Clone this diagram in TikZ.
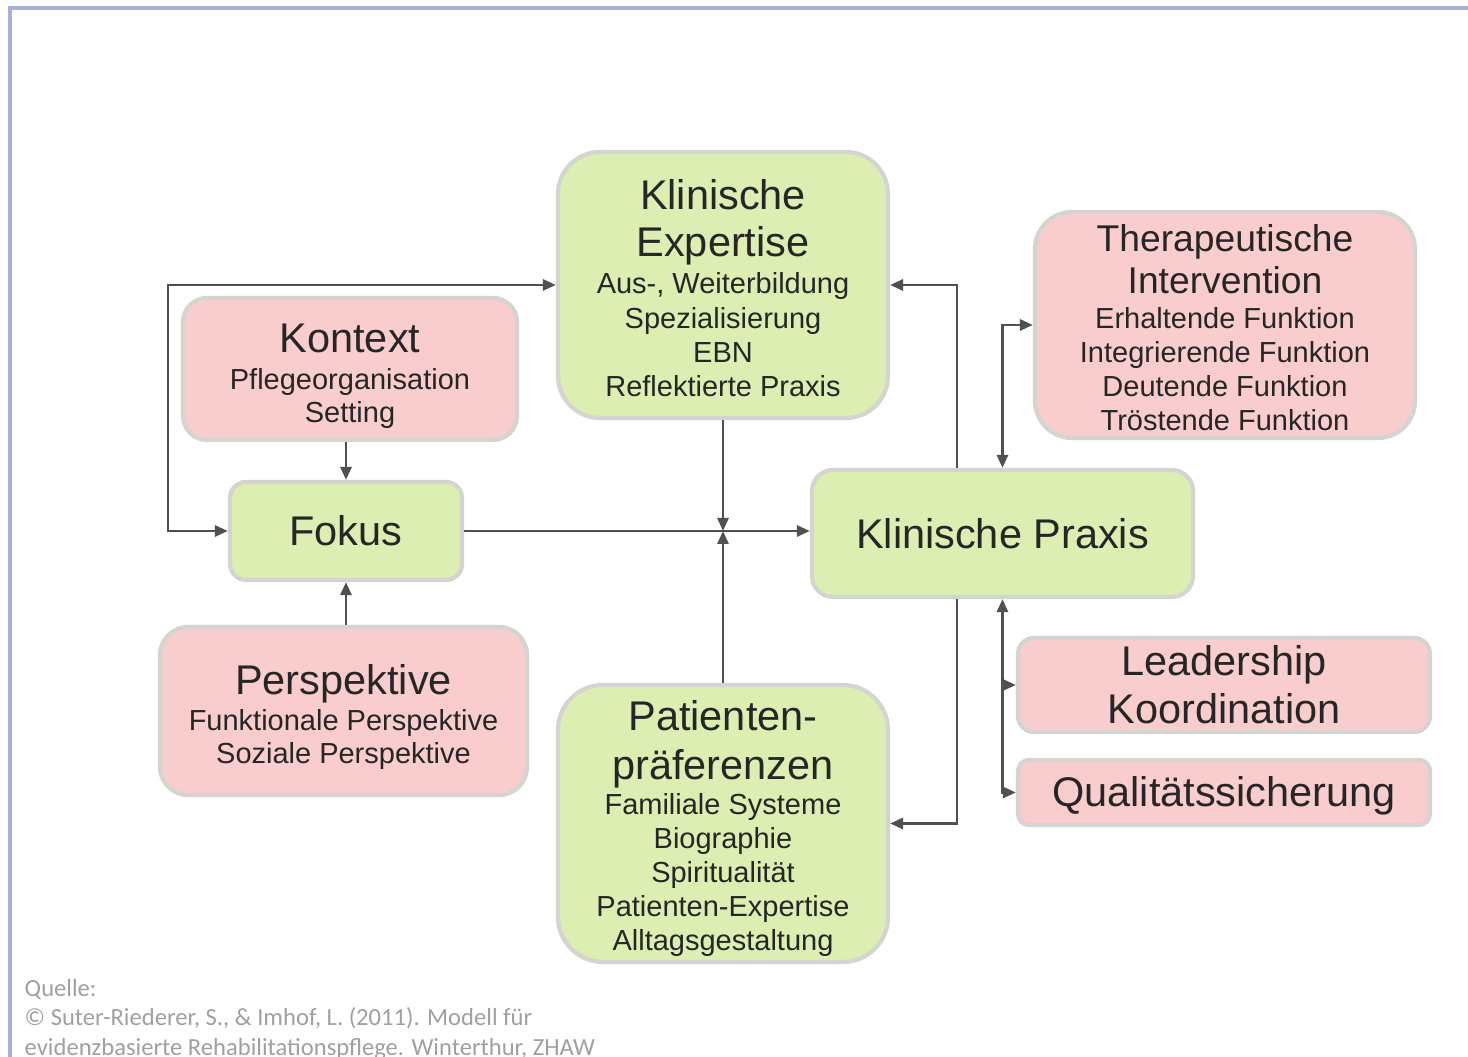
\documentclass[tikz,border=0pt]{standalone}
\usepackage{fontspec}
\setmainfont{Liberation Sans}
\newfontfamily\quellefont{Carlito}
\usetikzlibrary{arrows.meta}
\definecolor{boxgreen}{RGB}{220,238,177}
\definecolor{boxpink}{RGB}{249,205,205}
\definecolor{boxedge}{RGB}{212,212,208}
\definecolor{linegray}{RGB}{80,80,80}
\definecolor{framecol}{RGB}{165,178,214}
\definecolor{quellecol}{RGB}{160,160,160}
\newcommand{\bigt}{\fontsize{11.8}{14}\selectfont}
\newcommand{\midt}{\fontsize{10.6}{14}\selectfont}
\tikzset{
  gbox/.style={rectangle, fill=boxgreen, draw=boxedge, line width=1.2pt, text=black!85, align=center, inner sep=0pt, font=\fontsize{8.25}{14}\selectfont},
  pbox/.style={gbox, fill=boxpink},
  conn/.style={draw=linegray, line width=0.8pt, -{Triangle[length=1.3mm,width=1.1mm]}},
  conntwo/.style={conn, {Triangle[length=1.3mm,width=1.1mm]}-{Triangle[length=1.3mm,width=1.1mm]}},
  plainline/.style={draw=linegray, line width=0.8pt}
}
\begin{document}
\begin{tikzpicture}
\useasboundingbox (0,0) rectangle (14.68,10.57);
\fill[white] (0,0) rectangle (14.68,10.57);
\draw[framecol, line width=0.9pt] (0.10,0) -- (0.10,10.49) -- (14.68,10.49);
\node[gbox, minimum width=3.3cm, minimum height=2.66cm, rounded corners=0.42cm] (NExpertise) at (7.23,7.72) {\bigt\rule{0pt}{10.3pt}Klinische\\[-0.6pt]\bigt Expertise\\[-3.4pt]Aus-, Weiterbildung\\[-4.3pt]Spezialisierung\\[-4.3pt]EBN\\[-4.3pt]Reflektierte Praxis};
\node[pbox, minimum width=3.34cm, minimum height=1.42cm, rounded corners=0.24cm] (NKontext) at (3.50,6.88) {\bigt\rule{0pt}{12.2pt}Kontext\\[-3.4pt]Pflegeorganisation\\[-4.5pt]Setting};
\node[gbox, minimum width=2.32cm, minimum height=0.98cm, rounded corners=0.16cm] (NFokus) at (3.46,5.26) {\bigt Fokus};
\node[pbox, minimum width=3.67cm, minimum height=1.68cm, rounded corners=0.28cm] (NPerspektive) at (3.435,3.46) {\bigt\rule{0pt}{12pt}Perspektive\\[-3.7pt]Funktionale Perspektive\\[-4.5pt]Soziale Perspektive};
\node[gbox, minimum width=3.3cm, minimum height=2.77cm, rounded corners=0.45cm] (NPatienten) at (7.23,2.335) {\bigt\rule{0pt}{11.4pt}Patienten-\\[-0.1pt]\bigt präferenzen\\[-4.0pt]Familiale Systeme\\[-4.3pt]Biographie\\[-4.3pt]Spiritualität\\[-4.3pt]Patienten-Expertise\\[-4.3pt]Alltagsgestaltung};
\node[gbox, minimum width=3.81cm, minimum height=1.27cm, rounded corners=0.21cm] (NPraxis) at (10.025,5.235) {\bigt Klinische Praxis};
\node[pbox, minimum width=3.8cm, minimum height=2.26cm, rounded corners=0.37cm] (NTherapie) at (12.25,7.32) {\midt\rule{0pt}{9.1pt}Therapeutische\\[-2.0pt]\midt Intervention\\[-4.05pt]Erhaltende Funktion\\[-4.4pt]Integrierende Funktion\\[-4.4pt]Deutende Funktion\\[-4.4pt]Tröstende Funktion};
\node[pbox, minimum width=4.12cm, minimum height=0.94cm, rounded corners=0.16cm] (NLeadership) at (12.24,3.72) {\bigt Leadership\\[-0.3pt]\bigt Koordination};
\node[pbox, minimum width=4.12cm, minimum height=0.65cm, rounded corners=0.11cm] (NQualitaet) at (12.24,2.645) {\bigt\rule{0pt}{10.3pt}Qualitätssicherung};
\node[anchor=north west, align=left, inner sep=0pt, text=quellecol, font=\quellefont\fontsize{7}{8.3}\selectfont] (NQuelle) at (0.24,0.78) {Quelle:\\© Suter-Riederer, S., \& Imhof, L. (2011). Modell für\\evidenzbasierte Rehabilitationspflege. Winterthur, ZHAW};
\coordinate (CLoop) at (1.68,5.26);
\coordinate (CMid) at (NExpertise.south |- NFokus.east);
\draw[conntwo] (NExpertise.west) -| (CLoop) -- (NFokus.west);
\draw[conn] (NFokus.north |- NKontext.south) -- (NFokus.north);
\draw[conn] (NFokus.south |- NPerspektive.north) -- (NFokus.south);
\draw[conn] (NFokus.east) -- (NFokus.east -| NPraxis.west);
\draw[conn] (NExpertise.south) -- (CMid);
\draw[conn] (NPatienten.north) -- (CMid);
\draw[conn] ([xshift=-4.55mm]NPraxis.north) |- (NExpertise.east);
\draw[conn] ([xshift=-4.55mm]NPraxis.south) |- (NPatienten.east);
\draw[conntwo] (NPraxis.north) |- (NTherapie.west);
\draw[conntwo] (NPraxis.south) |- (NQualitaet.west);
\draw[conn] (NPraxis.south |- NLeadership.west) -- (NLeadership.west);
\end{tikzpicture}
\end{document}
